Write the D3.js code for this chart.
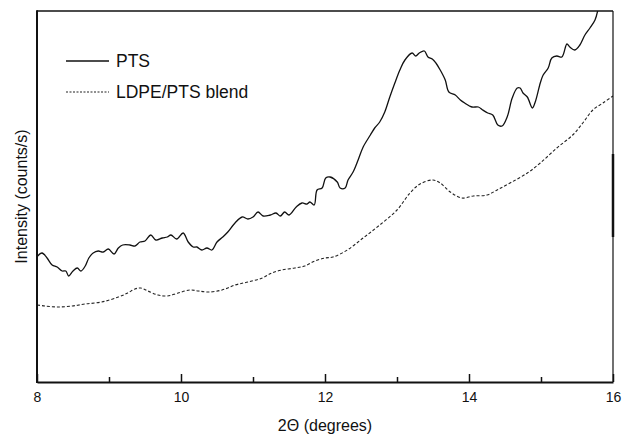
<!DOCTYPE html>
<html>
<head>
<meta charset="utf-8">
<script src="https://cdn.jsdelivr.net/npm/d3@7"></script>
<style>
  html, body { margin: 0; padding: 0; background: #fff; }
  svg { display: block; }
  text { font-family: "Liberation Sans", Arial, sans-serif; fill: #111; }
</style>
</head>
<body>
<svg id="chart" width="622" height="435"></svg>
<script>
// Diffraction angle 2Θ (degrees) for each scan
const ptsAngle = [8.01, 8.07, 8.14, 8.21, 8.28, 8.35, 8.40, 8.44, 8.50, 8.56, 8.61, 8.67, 8.72, 8.78, 8.85, 8.92, 8.99,
  9.07, 9.13, 9.19, 9.29, 9.36, 9.43, 9.50, 9.58, 9.65, 9.74, 9.81, 9.86, 9.94, 10.03, 10.10, 10.17, 10.22, 10.29,
  10.36, 10.43, 10.50, 10.58, 10.65, 10.75, 10.85, 10.93, 11.00, 11.07, 11.14, 11.24, 11.32, 11.38, 11.44, 11.50,
  11.60, 11.68, 11.75, 11.79, 11.85, 11.89, 11.96, 12.01, 12.07, 12.17, 12.21, 12.28, 12.32, 12.39, 12.46, 12.53,
  12.63, 12.69, 12.76, 12.83, 12.90, 12.97, 13.04, 13.11, 13.21, 13.26, 13.31, 13.38, 13.43, 13.49, 13.54, 13.60,
  13.67, 13.72, 13.81, 13.88, 13.94, 14.04, 14.13, 14.19, 14.26, 14.33, 14.40, 14.46, 14.53, 14.60, 14.67, 14.71,
  14.75, 14.81, 14.88, 14.92, 14.99, 15.03, 15.10, 15.15, 15.22, 15.29, 15.36, 15.40, 15.47, 15.54, 15.61, 15.68,
  15.75, 15.79, 15.82];
// PTS intensity (counts/s)
const ptsIntensity = [126, 129, 124, 117, 115, 111, 111, 106, 111, 114, 111, 116, 124, 129, 131, 130, 133,
  128, 134, 137, 137, 136, 140, 141, 147, 142, 144, 145, 147, 143, 149, 140, 135, 135, 132,
  134, 132, 140, 145, 150, 159, 165, 163, 165, 170, 166, 167, 169, 166, 170, 167,
  175, 179, 178, 180, 177, 192, 194, 204, 205, 200, 194, 194, 202, 210, 222, 235,
  247, 254, 260, 270, 285, 299, 312, 322, 329, 326, 329, 331, 325, 323, 319, 312,
  302, 290, 287, 282, 279, 275, 275, 272, 269, 267, 257, 256, 265, 284, 294, 294,
  289, 285, 274, 280, 299, 307, 314, 324, 326, 325, 338, 335, 332, 337, 347, 354,
  362, 372, 385];

const blendAngle = [8.00, 8.11, 8.29, 8.49, 8.67, 8.90, 9.13, 9.26, 9.36, 9.44, 9.54, 9.68, 9.81, 9.96, 10.13,
  10.24, 10.38, 10.57, 10.75, 10.93, 11.13, 11.26, 11.40, 11.58, 11.72, 11.86, 12.00, 12.11, 12.31, 12.53,
  12.76, 13.00, 13.18, 13.32, 13.50, 13.60, 13.74, 13.90, 14.06, 14.25, 14.39, 14.57, 14.81, 14.99, 15.22,
  15.44, 15.58, 15.72, 15.86, 16.00];
// LDPE/PTS blend intensity (counts/s)
const blendIntensity = [77, 76, 75, 76, 78, 80, 85, 89, 93, 94, 91, 87, 86, 89, 92,
  91, 90, 92, 97, 100, 104, 109, 112, 114, 116, 121, 124, 125, 132, 144,
  157, 172, 189, 198, 202, 199, 190, 184, 186, 187, 192, 199, 209, 219, 234,
  247, 259, 272, 279, 286];

const xTicks = [8, 10, 12, 14, 16];
const xMinorTicks = [9, 11, 13, 15];
const seriesNames = ["PTS", "LDPE/PTS blend"];

const svg = d3.select("#chart");
const plotLeft = 37, plotRight = 613, plotTop = 11, plotBottom = 382;

const x = d3.scaleLinear().domain([8, 16]).range([plotLeft, plotRight]);
const y = d3.scaleLinear().domain([0, 371]).range([plotBottom, plotTop]);

svg.append("defs").append("clipPath").attr("id", "plot")
  .append("rect").attr("x", plotLeft).attr("y", plotTop)
  .attr("width", plotRight - plotLeft).attr("height", plotBottom - plotTop);

const line = d3.line()
  .x(d => x(d[0])).y(d => y(d[1]))
  .curve(d3.curveCatmullRom.alpha(0.5));

const pts = d3.zip(ptsAngle, ptsIntensity);
const blend = d3.zip(blendAngle, blendIntensity);

const g = svg.append("g").attr("clip-path", "url(#plot)");
g.append("path").datum(blend).attr("d", line)
  .attr("fill", "none").attr("stroke", "#222").attr("stroke-width", 1.1)
  .attr("stroke-dasharray", "3,2");
g.append("path").datum(pts).attr("d", line)
  .attr("fill", "none").attr("stroke", "#111").attr("stroke-width", 1.3);

// frame
svg.append("line").attr("x1", plotLeft).attr("x2", plotRight).attr("y1", plotTop).attr("y2", plotTop)
  .attr("stroke", "#111").attr("stroke-width", 1.5);
svg.append("line").attr("x1", plotRight).attr("x2", plotRight).attr("y1", plotTop).attr("y2", plotBottom)
  .attr("stroke", "#111").attr("stroke-width", 1.2);
svg.append("line").attr("x1", plotRight).attr("x2", plotRight).attr("y1", 154).attr("y2", 237)
  .attr("stroke", "#111").attr("stroke-width", 2.5);
svg.append("line").attr("x1", plotLeft).attr("x2", plotLeft).attr("y1", plotTop - 0.75).attr("y2", plotBottom + 1)
  .attr("stroke", "#111").attr("stroke-width", 2);

// bottom axis with inward ticks
const xAxis = d3.axisBottom(x).tickValues(xTicks).tickSizeInner(-8).tickSizeOuter(0)
  .tickPadding(10).tickFormat(d3.format("d"));
const ax = svg.append("g").attr("transform", `translate(0,${plotBottom})`).call(xAxis);
ax.select(".domain").attr("stroke", "#111").attr("stroke-width", 2);
ax.selectAll(".tick line").attr("stroke", "#111").attr("stroke-width", 1.5);
ax.selectAll(".tick text").attr("font-size", 14).attr("font-family", "Liberation Sans, Arial, sans-serif")
  .attr("fill", "#111");

const minor = d3.axisBottom(x).tickValues(xMinorTicks).tickSizeInner(-5).tickSizeOuter(0).tickFormat("");
const mx = svg.append("g").attr("transform", `translate(0,${plotBottom})`).call(minor);
mx.select(".domain").remove();
mx.selectAll(".tick line").attr("stroke", "#111").attr("stroke-width", 1.5);

// axis titles
svg.append("text").attr("x", (plotLeft + plotRight) / 2).attr("y", 431)
  .attr("text-anchor", "middle").attr("font-size", 16).text("2Θ (degrees)");
svg.append("text").attr("transform", `translate(27,${(plotTop + plotBottom) / 2}) rotate(-90)`)
  .attr("text-anchor", "middle").attr("font-size", 16).text("Intensity (counts/s)");

// legend
const legend = svg.append("g");
legend.append("line").attr("x1", 66).attr("x2", 109).attr("y1", 61).attr("y2", 61)
  .attr("stroke", "#111").attr("stroke-width", 1.3);
legend.append("line").attr("x1", 66).attr("x2", 109).attr("y1", 92).attr("y2", 92)
  .attr("stroke", "#222").attr("stroke-width", 1.1).attr("stroke-dasharray", "2,1.5");
legend.append("text").attr("x", 116).attr("y", 67).attr("font-size", 17.5).text(seriesNames[0]);
legend.append("text").attr("x", 116).attr("y", 98).attr("font-size", 17.5).text(seriesNames[1]);
</script>
</body>
</html>
